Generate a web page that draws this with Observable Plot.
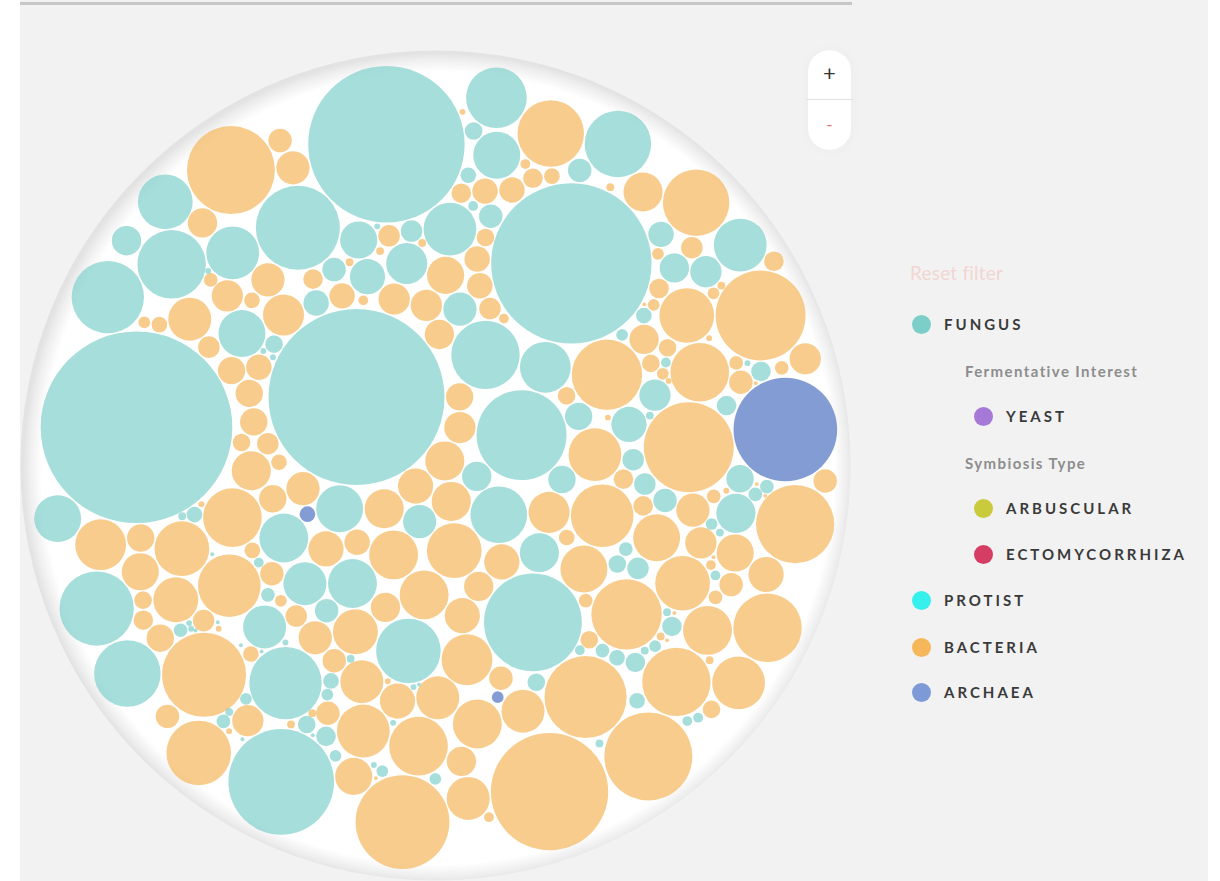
<!DOCTYPE html>
<html>
<head>
<meta charset="utf-8">
<script src="https://cdn.jsdelivr.net/npm/d3@7"></script>
<script src="https://cdn.jsdelivr.net/npm/@observablehq/plot@0.6"></script>
<style>
  html, body { margin: 0; padding: 0; background: #ffffff; width: 1220px; height: 881px; overflow: hidden; font-family: Lato, "Open Sans", sans-serif; }
  #panel { position: absolute; left: 20px; top: 0; width: 1188px; height: 881px; background: #f2f2f2; }
  #topbar { position: absolute; left: 20px; top: 2px; width: 832px; height: 3px; background: #c7c7c7; }
  #chart { position: absolute; left: 0; top: 0; }
  #zoom { position: absolute; left: 808px; top: 50px; width: 43px; height: 100px; border-radius: 22px; background: #ffffff; box-shadow: 0 0 14px rgba(0,0,0,0.03); }
  #zoom .plus { position: absolute; left: 0; top: 11px; width: 43px; text-align: center; font-size: 22px; color: #333; line-height: 24px; }
  #zoom .sep { position: absolute; left: -2px; top: 49px; width: 47px; height: 1px; background: #e2e2e2; }
  #zoom .minus { position: absolute; left: 0; top: 63px; width: 43px; text-align: center; font-size: 17px; color: #e07a78; line-height: 24px; }
  .lg { position: absolute; white-space: nowrap; }
  .reset { font-size: 19px; color: #f2d6d2; left: 910px; top: 261px; letter-spacing: 0.2px; }
  .item { font-size: 15px; font-weight: 700; letter-spacing: 3px; color: #3a3a3a; line-height: 20px; }
  .sub { font-size: 15px; font-weight: 700; letter-spacing: 1.4px; color: #8d8d8d; line-height: 20px; }
  .dot { position: absolute; width: 19px; height: 19px; border-radius: 50%; }
</style>
</head>
<body>
<div id="panel"></div>
<div id="topbar"></div>
<div id="chart"></div>
<div id="zoom"><div class="plus">+</div><div class="sep"></div><div class="minus">-</div></div>
<div id="legend"></div>
<script>
// ---- Data: circle sizes (radius units), per kingdom ----
const fungusSizes = [
  46, 22, 8, 6, 12, 9, 7, 14, 5, 3, 4,
  90, 18, 12, 10, 8, 15, 7, 9, 6, 5, 3, 2,
  82, 50, 35, 20, 11, 10, 8, 7, 6, 4, 3, 2,
  43, 25, 17, 14, 12, 9, 6, 5, 4, 3, 3, 2,
  98, 33, 27, 29, 26, 16, 13, 11, 8, 7, 5, 3, 4, 2,
  35, 37, 54, 24, 22, 18, 16, 13, 10, 9, 6, 5, 4, 2, 3,
  38, 25, 24, 21, 19, 15, 12, 11, 8, 7, 6, 4, 3, 2, 3,
  80, 37, 34, 28, 27, 24, 20, 17, 14, 10, 9, 7, 6, 5, 2, 4,
  34, 27, 24, 31, 15, 12, 11, 10, 8, 7, 6, 5, 4, 3, 2, 3
];
const bacteriaSizes = [
  14, 12, 17, 10, 16, 8, 6, 9, 5, 11, 7, 3, 4,
  36, 32, 22, 20, 25, 18, 14, 12, 10, 9, 8, 7, 6, 4, 3, 2,
  36, 28, 46, 25, 22, 21, 18, 16, 15, 13, 12, 11, 9, 8, 5, 3, 4, 2,
  42, 30, 32, 22, 20, 27, 18, 16, 15, 14, 13, 12, 11, 10, 8, 7, 6, 4, 3, 2,
  60, 34, 28, 26, 25, 24, 20, 19, 18, 17, 16, 15, 14, 13, 12, 10, 9, 7, 5, 3, 4, 2,
  45, 46, 35, 34, 24, 22, 20, 19, 17, 16, 15, 14, 13, 12, 11, 10, 9, 8, 6, 2, 4, 3,
  45, 43, 40, 30, 28, 25, 23, 21, 19, 18, 17, 15, 14, 13, 12, 11, 10, 9, 8, 6, 4, 3, 2,
  48, 30, 27, 23, 22, 20, 19, 17, 16, 14, 13, 12, 11, 10, 9, 7, 6, 5, 3, 2, 4,
  35, 33, 28, 27, 26, 18, 16, 15, 13, 12, 11, 10, 9, 8, 7, 5, 4, 2, 3
];
const archaeaSizes = [8, 6, 53];

const kingdoms = ["Fungus", "Bacteria", "Archaea"];
const kingdomColors = ["#7fd0cb", "#f5b75c", "#4f73c2"];

const legendItems = [
  {label: "FUNGUS", color: "#7ccfc9", indent: 0},
  {label: "Fermentative Interest", sub: true},
  {label: "YEAST", color: "#a679d9", indent: 1},
  {label: "Symbiosis Type", sub: true},
  {label: "ARBUSCULAR", color: "#c9cb3c", indent: 1},
  {label: "ECTOMYCORRHIZA", color: "#d53d64", indent: 1},
  {label: "PROTIST", color: "#36f0ee", indent: 0},
  {label: "BACTERIA", color: "#f5b75a", indent: 0},
  {label: "ARCHAEA", color: "#7e9ad6", indent: 0}
];

// ---- Layout: bubble force packing inside a disc ----
const sizeLists = [fungusSizes, bacteriaSizes, archaeaSizes];
const nodes = kingdoms.flatMap((k, j) =>
  sizeLists[j].map((v, i) => ({kingdom: k, r: v, key: (i + 0.5) / sizeLists[j].length}))
).sort((a, b) => a.key - b.key);

const sumR2 = d3.sum(nodes, d => d.r * d.r);
const Rc = Math.sqrt(sumR2 / 0.8);
function contain() {
  for (const n of nodes) {
    const d = Math.hypot(n.x, n.y) || 1;
    const over = d + n.r - Rc;
    if (over > 0) { n.vx -= n.x / d * over * 0.3; n.vy -= n.y / d * over * 0.3; }
  }
}
const sim = d3.forceSimulation(nodes)
  .force("x", d3.forceX(0).strength(0.015))
  .force("y", d3.forceY(0).strength(0.015))
  .force("rim", d3.forceRadial(d => Rc - d.r - 1, 0, 0).strength(d => d.r <= 12 ? 0.06 : 0))
  .force("collide", d3.forceCollide(d => d.r + 0.8).strength(0.8).iterations(3))
  .force("contain", contain)
  .stop();
for (let i = 0; i < 500; ++i) sim.tick();

const enc = d3.packEnclose(nodes);
const innerPx = 405, outerPx = 415;
const k = innerPx / enc.r;           // pixels per unit
const D = outerPx / k;               // outer disc radius in data units

const svg = Plot.plot({
  width: 870,
  height: 881,
  marginLeft: 20, marginRight: 20, marginTop: 50, marginBottom: 1,
  x: {domain: [enc.x - D, enc.x + D], axis: null, reverse: true},
  y: {domain: [enc.y - D, enc.y + D], axis: null, reverse: true},
  r: {type: "linear", domain: [0, D], range: [0, outerPx]},
  color: {domain: kingdoms, range: kingdomColors},
  style: {background: "transparent", overflow: "visible"},
  marks: [
    Plot.dot([{x: enc.x, y: enc.y, r: D}], {x: "x", y: "y", r: "r", fill: "url(#ringGrad)", stroke: "none"}),
    Plot.dot(nodes, {x: "x", y: "y", r: "r", fill: "kingdom", fillOpacity: 0.7, stroke: "none"})
  ]
});
d3.select(svg).insert("defs", ":first-child").html(`
  <radialGradient id="ringGrad" cx="50.3%" cy="50.3%" r="50%">
    <stop offset="0.955" stop-color="#ffffff"/>
    <stop offset="0.985" stop-color="#eeeeee"/>
    <stop offset="1" stop-color="#e3e3e3"/>
  </radialGradient>`);
document.getElementById("chart").appendChild(svg);

// ---- Legend ----
const legend = document.getElementById("legend");
const reset = document.createElement("div");
reset.className = "lg reset";
reset.textContent = "Reset filter";
legend.appendChild(reset);
const rowYs = [324, 371, 416, 463, 508, 554, 600, 647, 692];
legendItems.forEach((it, i) => {
  const cy = rowYs[i];
  if (it.sub) {
    const t = document.createElement("div");
    t.className = "lg sub";
    t.style.left = "965px"; t.style.top = (cy - 10) + "px";
    t.textContent = it.label;
    legend.appendChild(t);
  } else {
    const dx = it.indent ? 62 : 0;
    const d = document.createElement("div");
    d.className = "dot";
    d.style.background = it.color;
    d.style.left = (912 + dx) + "px"; d.style.top = (cy - 9.5) + "px";
    legend.appendChild(d);
    const t = document.createElement("div");
    t.className = "lg item";
    t.style.left = (944 + dx) + "px"; t.style.top = (cy - 10) + "px";
    t.textContent = it.label;
    legend.appendChild(t);
  }
});
</script>
</body>
</html>
